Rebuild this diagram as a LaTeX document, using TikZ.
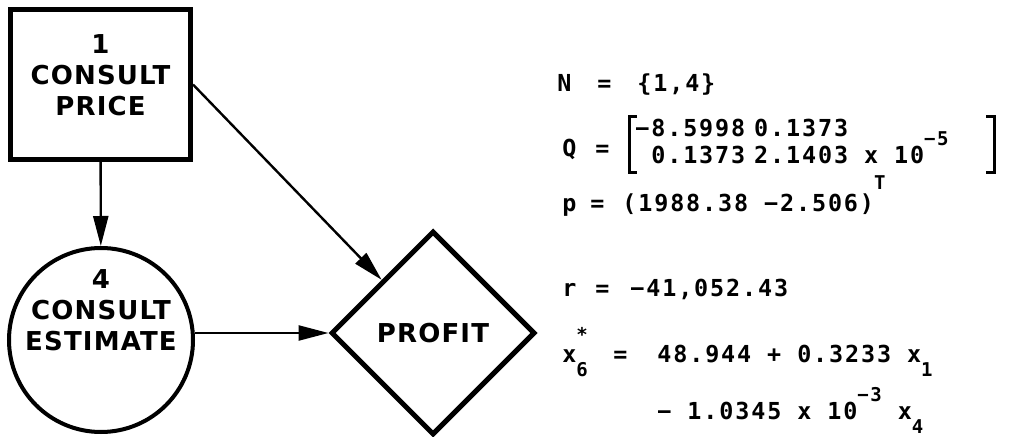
\documentclass[tikz,border=0pt]{standalone}
\usepackage{fontspec}
\setmainfont{DejaVu Sans}
\newfontfamily\lblfont[LetterSpace=4.5]{DejaVu Sans}
\newfontfamily\eqfont[LetterSpace=8]{DejaVu Sans Mono}
\usetikzlibrary{arrows.meta,positioning,shapes.geometric}
% raised / lowered indices
\newcommand{\supx}[2][9pt]{\raisebox{#1}[0pt][0pt]{\fontsize{9.5}{10}\selectfont #2}}
\newcommand{\subx}[1]{\raisebox{-7pt}[0pt][0pt]{\fontsize{9.5}{10}\selectfont #1}}
\newcommand{\supsubx}[2]{\makebox[0pt][l]{\raisebox{10.5pt}[0pt][0pt]{\fontsize{9.5}{10}\selectfont #1}}\subx{#2}}

\begin{document}
\begin{tikzpicture}[x=0.5pt, y=-0.5pt,
  lbl/.style={font=\lblfont\bfseries\fontsize{13}{15.5}\selectfont, align=center},
  eq/.style={font=\eqfont\bfseries\fontsize{11.7}{13.5}\selectfont, anchor=base west, inner sep=0pt},
  decbox/.style={draw, line width=2.5pt, minimum width=90pt, minimum height=75pt, inner sep=0pt},
  chance/.style={draw, circle, line width=2pt, minimum size=92pt, inner sep=0pt},
  valnode/.style={draw, diamond, aspect=1, line width=2.5pt, minimum size=102pt, inner sep=0pt, lbl},
  arr/.style={-{Triangle[length=15pt,width=7.5pt]}, line width=1.2pt},
  brk/.style={line width=1.5pt}]
\useasboundingbox (0,0) rectangle (1010,437);
% Decision and chance nodes
\node[decbox, label={[lbl,yshift=4.5pt]center:{1\\CONSULT\\PRICE}}] (price) at (100.5,84.5) {};
\node[chance, label={[lbl,yshift=15pt]center:{4\\CONSULT\\ESTIMATE}}] (estimate) at (101,340) {};
% Value node
\node[valnode] (profit) at (433,333) {PROFIT};
% Arcs
\draw[arr] (price) -- (estimate);
\draw[arr] (price.east) -- (profit);
\draw[arr] (estimate.east |- profit.west) -- (profit.west);
% Model
\node[eq] (eqN) at (557,92) {\makebox[20pt][l]{N}\makebox[20pt][l]{=}\{1,4\}};
\node[eq] (eqQ) at (562,157) {\makebox[16.5pt][l]{Q}=};
\node[eq, anchor=west, minimum height=27.5pt] (qmat) at (629,144.5)
  {\begin{tabular}{@{\hspace{3pt}}r@{\hspace{4.5pt}}l@{\hspace{22.5pt}}}
   −8.5998 & 0.1373\\
   0.1373 & 2.1403 x 10\supx{−5}
   \end{tabular}};
\draw[brk] ([xshift=4pt]qmat.north west) -- (qmat.north west) -- (qmat.south west) -- ([xshift=4pt]qmat.south west);
\draw[brk] ([xshift=-4pt]qmat.north east) -- (qmat.north east) -- (qmat.south east) -- ([xshift=-4pt]qmat.south east);
\node[eq] (eqP) at (562,212) {\makebox[14pt][l]{p}\makebox[16pt][l]{=}(1988.38 −2.506)\supx[11pt]{T}};
\node[eq] (eqR) at (562,297) {\makebox[16.5pt][l]{r}\makebox[17.5pt][l]{=}−41,052.43};
\node[eq] (eqX) at (562,363) {\makebox[25.5pt][l]{x\supsubx{*}{6}}\makebox[22pt][l]{=}48.944 + 0.3233 x\subx{1}};
\node[eq] (eqXb) at (657,419) {− 1.0345 x 10\supx{−3} x\subx{4}};
\end{tikzpicture}
\end{document}
